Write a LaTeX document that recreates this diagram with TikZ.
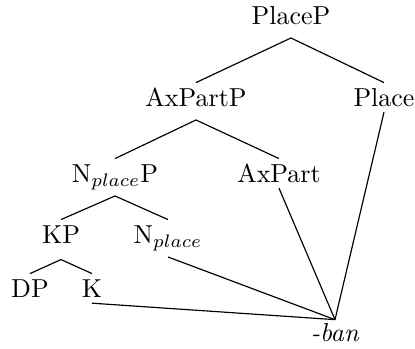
\documentclass[tikz,border=0pt]{standalone}
\begin{document}
\begin{tikzpicture}[x=0.385pt,y=-0.385pt,
  lbl/.style={anchor=base,inner sep=2.3pt,text height=6.9pt,text depth=2.5pt,font=\fontsize{10}{12}\selectfont},
  edge/.style={line width=0.45pt}]
\useasboundingbox (0,0) rectangle (415,349);
\node[lbl] (placep) at (291,25) {PlaceP};
\node[lbl] (axpartp) at (196,107) {AxPartP};
\node[lbl] (place) at (384,107) {Place};
\node[lbl] (nplacep) at (115,183) {N$_{place}$P};
\node[lbl] (axpart) at (279,183) {AxPart};
\node[lbl] (kp) at (61,244) {KP};
\node[lbl] (nplace) at (168,244) {N$_{place}$};
\node[lbl] (dp) at (30,298) {DP};
\node[lbl] (k) at (92,298) {K};
\node[lbl] (ban) at (335,342) {\textit{-ban}};
\draw[edge] (placep.south) -- (axpartp.north);
\draw[edge] (placep.south) -- (place.north);
\draw[edge] (axpartp.south) -- (nplacep.north);
\draw[edge] (axpartp.south) -- (axpart.north);
\draw[edge] (nplacep.south) -- (kp.north);
\draw[edge] (nplacep.south) -- (nplace.north);
\draw[edge] ([yshift=-1pt]kp.south) -- (dp.north);
\draw[edge] ([yshift=-1pt]kp.south) -- (k.north);
\draw[edge] ([yshift=-2pt]k.base) -- ([yshift=-0.8pt]ban.north);
\draw[edge] (nplace.south) -- ([yshift=-0.8pt]ban.north);
\draw[edge] ([yshift=-2pt]axpart.base) -- ([yshift=-0.8pt]ban.north);
\draw[edge] ([yshift=-2pt]place.base) -- ([yshift=-0.8pt]ban.north);
\end{tikzpicture}
\end{document}
